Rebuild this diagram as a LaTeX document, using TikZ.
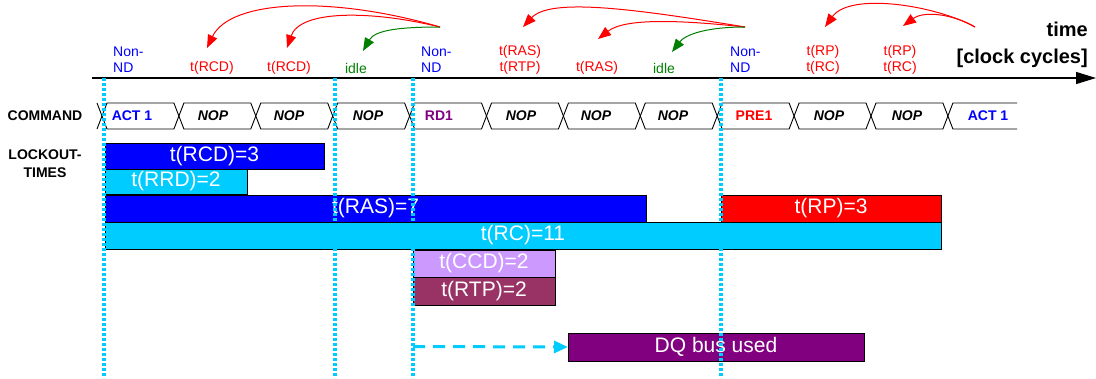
\documentclass[tikz,border=0pt]{standalone}
\usepackage{fontspec}
\setmainfont{Liberation Sans}
\usetikzlibrary{arrows.meta}
\definecolor{dramblue}{RGB}{0,0,255}
\definecolor{dramcyan}{RGB}{0,204,255}
\definecolor{dramred}{RGB}{255,0,0}
\definecolor{dramgreen}{RGB}{0,128,0}
\definecolor{drampurple}{RGB}{128,0,128}
\definecolor{ccdlilac}{RGB}{204,153,255}
\definecolor{rtpplum}{RGB}{153,51,102}

\begin{document}
\begin{tikzpicture}[x=1pt,y=-1pt,
  bar/.style={draw=black, line width=0.9pt, inner sep=0pt, outer sep=0pt,
    anchor=north west, text=white, font=\fontsize{21}{23}\selectfont},
  small/.style={font=\fontsize{14}{16}\selectfont, inner sep=0pt, align=center},
  cmdtxt/.style={font=\fontsize{14}{16}\selectfont\bfseries, inner sep=0pt},
  noptxt/.style={cmdtxt, font=\fontsize{14}{16}\selectfont\bfseries\itshape},
  rowtitle/.style={font=\fontsize{14}{18}\selectfont\bfseries, inner sep=0pt, align=center},
  marker/.style={dramcyan, line width=3.2pt, dash pattern=on 3pt off 2pt},
  bend arrow/.style={line width=1pt, -{Triangle[length=13pt,width=10pt]}},
  cmdline/.style={line width=0.9pt, black}
]
\useasboundingbox (0,0) rectangle (1096,378);

% time axis
\coordinate (axL) at (92,78);
\coordinate (axR) at (1096,78);
\draw[line width=1.3pt, -{Triangle[length=20pt,width=12pt]}] (axL) -- (axR);
\node[font=\fontsize{20}{27}\selectfont\bfseries, align=right, anchor=east, inner sep=0pt]
  (timelbl) at (1088,45) {time\\{}[clock cycles]};

% command bus: one hexagon per clock cycle
\foreach \k in {0,...,10}{
  \pgfmathsetmacro\ca{102+76.9*\k}
  \pgfmathsetmacro\cb{\ca+76.9}
  \draw[cmdline] (\ca,116) -- (\ca+5,103) -- (\cb-5,103) -- (\cb,116)
                 -- (\cb-5,129) -- (\ca+5,129) -- cycle;
}
\draw[cmdline] (97,103) -- (102,116) -- (97,129);
\draw[cmdline] (1017,103) -- (952.9,103) -- (947.9,116) -- (952.9,129) -- (1017,129);

\node[rowtitle] (cmdtitle) at (45,116) {COMMAND};
\node[rowtitle] (locktitle) at (45,164) {LOCKOUT-\\TIMES};

\node[cmdtxt, text=dramblue] (c0) at (132,116) {ACT 1};
\node[noptxt] (c1) at (213,116) {NOP};
\node[noptxt] (c2) at (289,116) {NOP};
\node[noptxt] (c3) at (368,116) {NOP};
\node[cmdtxt, text=drampurple] (c4) at (439,116) {RD1};
\node[noptxt] (c5) at (521,116) {NOP};
\node[noptxt] (c6) at (596,116) {NOP};
\node[noptxt] (c7) at (673,116) {NOP};
\node[cmdtxt, text=dramred] (c8) at (754,116) {PRE1};
\node[noptxt] (c9) at (829,116) {NOP};
\node[noptxt] (c10) at (907,116) {NOP};
\node[cmdtxt, text=dramblue] (c11) at (988,116) {ACT 1};

% state labels above the axis
\node[small, text=dramblue, align=left, anchor=west] (nd1) at (113,60) {Non-\\ND};
\node[small, text=dramblue, align=left, anchor=west] (nd2) at (421,60) {Non-\\ND};
\node[small, text=dramblue, align=left, anchor=west] (nd3) at (730,60) {Non-\\ND};
\node[small, text=dramred] (l1) at (212,68) {t(RCD)};
\node[small, text=dramred] (l2) at (289,68) {t(RCD)};
\node[small, text=dramgreen] (l3) at (356,68) {idle};
\node[small, text=dramred] (l5) at (520,60) {t(RAS)\\t(RTP)};
\node[small, text=dramred] (l6) at (597,68) {t(RAS)};
\node[small, text=dramgreen] (l7) at (664,68) {idle};
\node[small, text=dramred] (l9) at (823,60) {t(RP)\\t(RC)};
\node[small, text=dramred] (l10) at (900,60) {t(RP)\\t(RC)};

% back-pointing arrows
\coordinate (s1) at (440,27);
\coordinate (s2) at (745,27);
\coordinate (s3) at (975,27);
\coordinate (e1a) at (207,48);
\coordinate (e1b) at (287,48);
\coordinate (e1c) at (363,51);
\coordinate (e2a) at (523,27);
\coordinate (e2b) at (598,39);
\coordinate (e2c) at (672,52);
\coordinate (e3a) at (825,27);
\coordinate (e3b) at (903,26);
\draw[bend arrow, dramred] (s1) .. controls (330,-5) and (230,0) .. (e1a);
\draw[bend arrow, dramred] (s1) .. controls (370,10) and (300,10) .. (e1b);
\draw[bend arrow, dramgreen] (s1) .. controls (400,27) and (375,30) .. (e1c);
\draw[bend arrow, dramred] (s2) .. controls (630,8) and (550,-2) .. (e2a);
\draw[bend arrow, dramred] (s2) .. controls (680,20) and (625,18) .. (e2b);
\draw[bend arrow, dramgreen] (s2) .. controls (705,27) and (685,35) .. (e2c);
\draw[bend arrow, dramred] (s3) .. controls (935,5) and (850,-8) .. (e3a);
\draw[bend arrow, dramred] (s3) .. controls (955,15) and (925,10) .. (e3b);

% lockout bars
\node[bar, fill=dramblue, minimum width=219pt, minimum height=26pt] (rcd) at (105,143) {t(RCD)=3};
\node[bar, fill=dramcyan, minimum width=142pt, minimum height=25pt] (rrd) at (105,169) {t(RRD)=2};
\node[bar, fill=dramblue, minimum width=541pt, minimum height=27pt] (ras) at (105,195) {t(RAS)=7};
\node[bar, fill=dramred, minimum width=220pt, minimum height=27pt] (rp) at (721,195) {t(RP)=3};
\node[bar, fill=dramcyan, minimum width=836pt, minimum height=27pt] (rc) at (105,222) {t(RC)=11};
\node[bar, fill=ccdlilac, minimum width=142pt, minimum height=27pt] (ccd) at (413,250) {t(CCD)=2};
\node[bar, fill=rtpplum, minimum width=142pt, minimum height=28pt] (rtp) at (413,277) {t(RTP)=2};
\node[bar, fill=drampurple, minimum width=296pt, minimum height=28pt] (dq) at (568,333) {DQ bus used};

\coordinate (dqstart) at (413,346.5);
\draw[dramcyan, line width=3pt, dash pattern=on 12pt off 8pt,
  -{Triangle[length=14pt,width=12pt]}] (dqstart) -- (dq.west);

% cycle markers
\foreach \xm in {104,335,413,721}{
  \draw[marker] (\xm,78) -- (\xm,378);
}
\end{tikzpicture}
\end{document}
